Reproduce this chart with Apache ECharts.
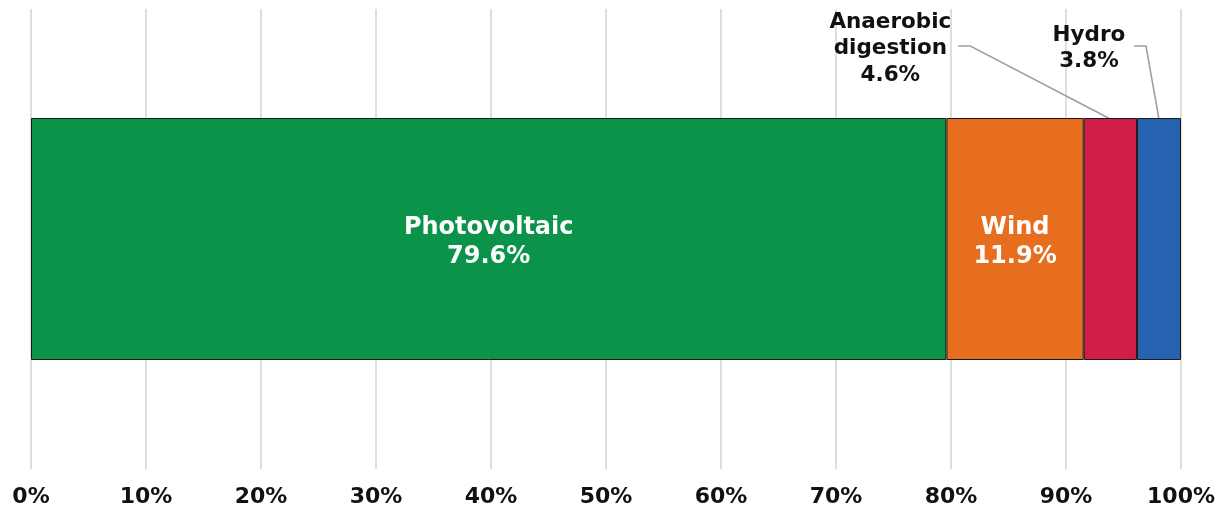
<!DOCTYPE html>
<html>
<head>
<meta charset="utf-8">
<script src="https://cdn.jsdelivr.net/npm/echarts@6/dist/echarts.min.js"></script>
<style>
html,body{margin:0;padding:0;background:#fff;}
#chart{width:1226px;height:509px;}
</style>
</head>
<body>
<div id="chart"></div>
<script>
var categories = ['Renewables'];
var seriesNames = ['Photovoltaic', 'Wind', 'Anaerobic digestion', 'Hydro'];
var seriesValues = [79.6, 11.94, 4.63, 3.83];
var seriesColors = ['#0a9349', '#e86e1f', '#cf1f48', '#2563b0'];
var labelText = ['Photovoltaic', 'Wind', 'Anaerobic\ndigestion', 'Hydro'];
var insideLabel = [true, true, false, false];
var xTicks = [0, 10, 20, 30, 40, 50, 60, 70, 80, 90, 100];

var FONT = '"DejaVu Sans", Verdana, sans-serif';
var chart = echarts.init(document.getElementById('chart'));

var series = seriesNames.map(function (n, i) {
  return {
    name: n,
    type: 'bar',
    stack: 'total',
    barWidth: 242,
    data: [seriesValues[i]],
    itemStyle: { color: seriesColors[i], borderColor: '#1a1a1a', borderWidth: 1 },
    label: {
      show: insideLabel[i],
      position: 'inside',
      offset: [0, 3],
      formatter: function () { return labelText[i] + '\n' + seriesValues[i].toFixed(1) + '%'; },
      color: '#ffffff',
      fontFamily: FONT,
      fontWeight: 'bold',
      fontSize: 24,
      lineHeight: 29
    },
    emphasis: { disabled: true },
    silent: true,
    animation: false
  };
});

chart.setOption({
  animation: false,
  grid: { left: 31, right: 45, top: 9, bottom: 40, containLabel: false },
  xAxis: {
    type: 'value',
    min: xTicks[0], max: xTicks[xTicks.length - 1], interval: xTicks[1] - xTicks[0],
    axisLine: { show: false },
    axisTick: { show: false },
    splitLine: { show: true, lineStyle: { color: '#dedede', width: 2 } },
    axisLabel: {
      formatter: function (v) { return v + '%'; },
      color: '#111',
      fontFamily: FONT,
      fontWeight: 'bold',
      fontSize: 22,
      margin: 17
    }
  },
  yAxis: {
    type: 'category',
    data: categories,
    axisLine: { show: false },
    axisTick: { show: false },
    axisLabel: { show: false }
  },
  series: series
});

function drawCallouts() {
  var cum = 0, starts = [];
  for (var i = 0; i < seriesValues.length; i++) { starts.push(cum); cum += seriesValues[i]; }
  var yCenter = chart.convertToPixel({ yAxisIndex: 0 }, categories[0]);
  var barTop = yCenter - 242 / 2 + 1;
  var elements = [];
  var cfg = { 2: { dxText: -220, textTop: 9, lineY: 46, elbow: -140 }, 3: { dxText: -70, textTop: 22, lineY: 46, elbow: -13 } };
  for (var j = 0; j < seriesValues.length; j++) {
    if (insideLabel[j]) continue;
    var c = cfg[j];
    var xMid = chart.convertToPixel({ xAxisIndex: 0 }, starts[j] + seriesValues[j] / 2);
    var tx = xMid + c.dxText;
    elements.push({
      type: 'text',
      x: tx, y: c.textTop,
      style: {
        text: labelText[j] + '\n' + seriesValues[j].toFixed(1) + '%',
        fill: '#111', font: 'bold 21.5px ' + FONT, align: 'center', lineHeight: 26.5
      },
      silent: true
    });
    var ex = xMid + c.elbow;
    elements.push({
      type: 'polyline',
      shape: { points: [[ex - 12, c.lineY], [ex, c.lineY], [xMid, barTop]] },
      style: { stroke: '#a0a0a0', lineWidth: 1.6, fill: null },
      silent: true
    });
  }
  chart.setOption({ graphic: elements });
}
drawCallouts();
</script>
</body>
</html>
